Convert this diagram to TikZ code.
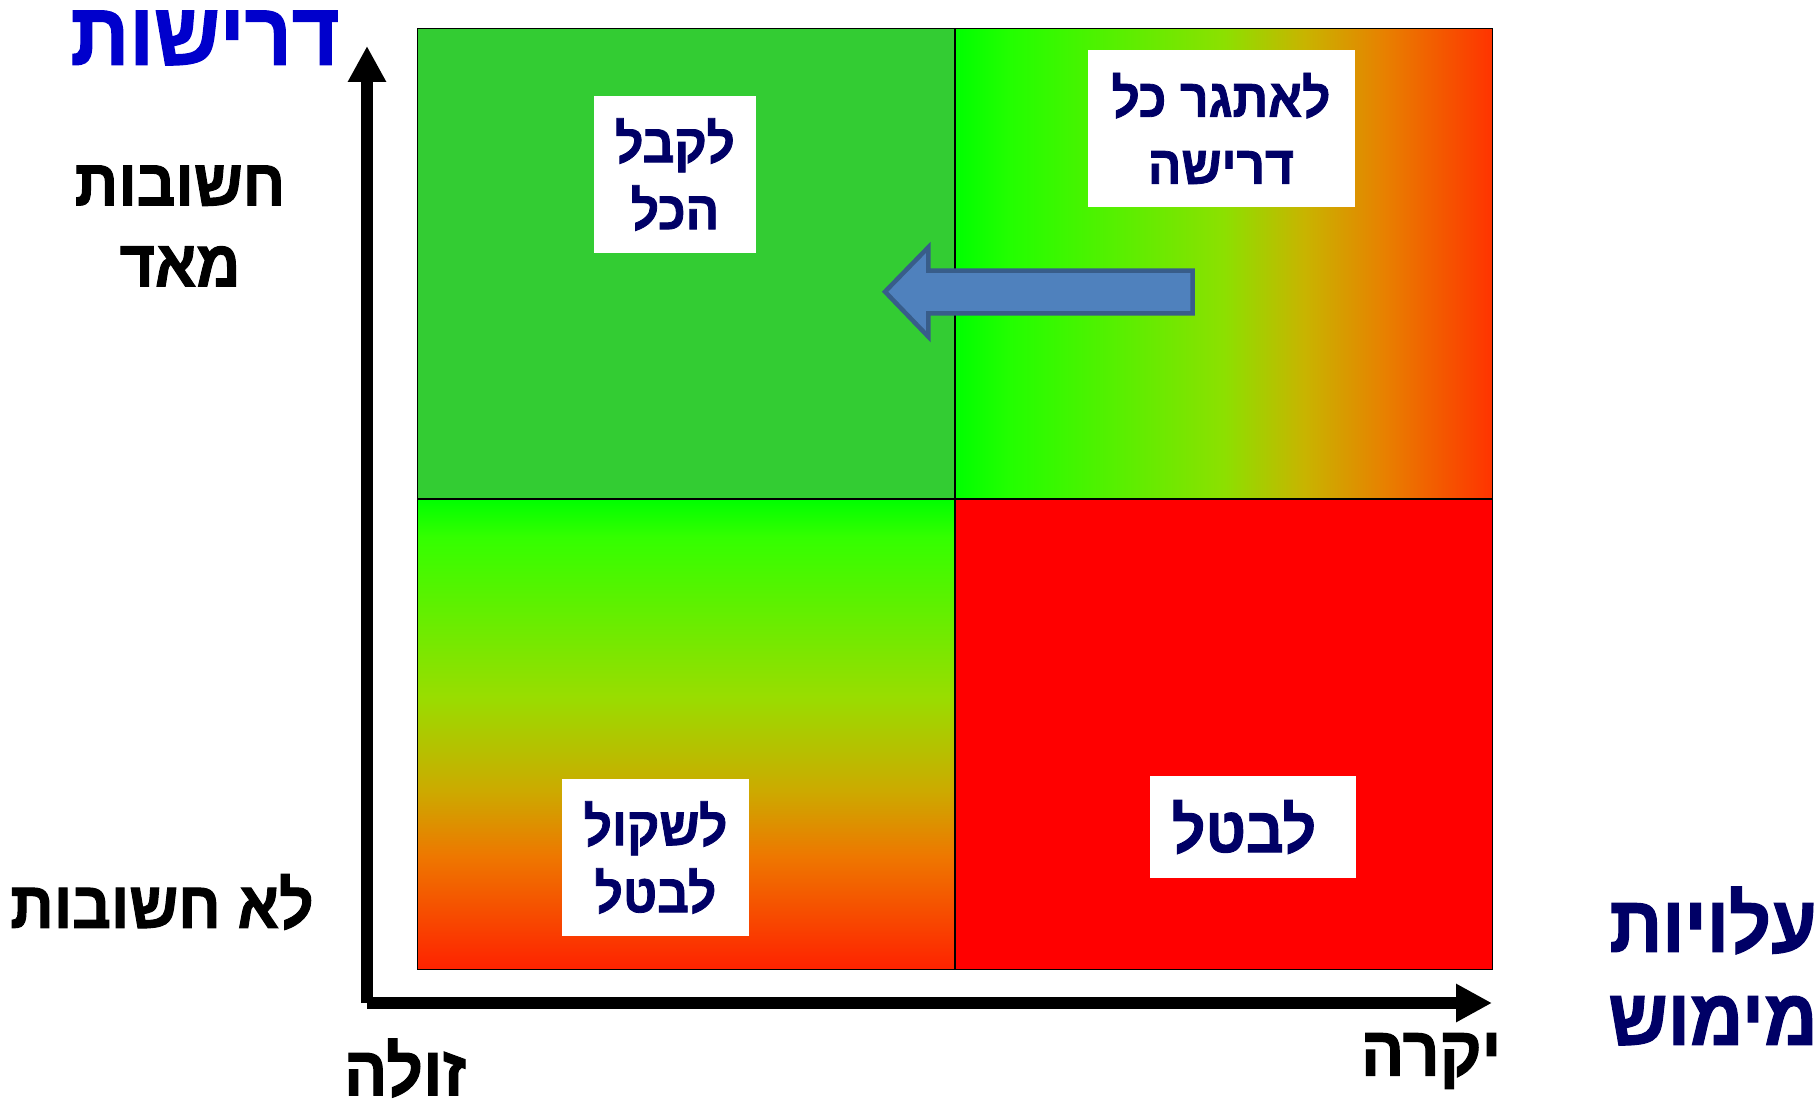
\documentclass[tikz,border=0pt]{standalone}
\usepackage{fontspec}
\usepackage{xcolor}
\usetikzlibrary{arrows.meta}
\newfontfamily\hebfont[Script=Hebrew, FakeStretch=0.92, BoldFont={Liberation Sans Bold}, BoldFeatures={FakeBold=1.5}]{Liberation Sans}
\TeXXeTstate=1

\definecolor{navytxt}{HTML}{000066}
\definecolor{titleblue}{HTML}{0000CC}
\definecolor{keepgreen}{HTML}{33CC33}
\definecolor{arrowfill}{HTML}{4F81BD}
\definecolor{arrowedge}{HTML}{385D8A}
\definecolor{gA}{HTML}{00FF00}
\definecolor{gB}{HTML}{22FF00}
\definecolor{gC}{HTML}{8CE000}
\definecolor{gD}{HTML}{C8B400}
\definecolor{gE}{HTML}{E88000}
\definecolor{gF}{HTML}{FF3300}
\definecolor{lA}{HTML}{FF2200}
\definecolor{lB}{HTML}{EE7700}
\definecolor{lC}{HTML}{CCAA00}
\definecolor{lD}{HTML}{99DD00}
\definecolor{lE}{HTML}{33FF00}
\definecolor{lF}{HTML}{00FF00}

\pgfdeclarehorizontalshading{costshade}{100bp}{color(0bp)=(gA); color(25bp)=(gA); color(30bp)=(gB); color(50bp)=(gC); color(57.5bp)=(gD); color(65bp)=(gE); color(75bp)=(gF); color(100bp)=(gF)}
\pgfdeclareverticalshading{lowshade}{100bp}{color(0bp)=(lA); color(25bp)=(lA); color(37bp)=(lB); color(44bp)=(lC); color(54bp)=(lD); color(71bp)=(lE); color(75bp)=(lF); color(100bp)=(lF)}

\tikzset{
  quad/.style={draw=black, line width=1.5pt, minimum width=537.5pt, minimum height=470.5pt, inner sep=0pt, outer sep=0pt, anchor=north west},
  verdict/.style={fill=white, text=navytxt, font=\hebfont\bfseries\fontsize{54}{67}\selectfont, align=center, inner sep=0pt},
  axislabel/.style={font=\hebfont\bfseries\fontsize{66}{81}\selectfont, align=center, inner sep=0pt},
  axis/.style={line width=12pt, -{Triangle[length=36pt,width=36pt]}}
}

\begin{document}
\begin{tikzpicture}[x=1pt,y=-1pt]
  \useasboundingbox (0,0) rectangle (1814,1099);

  % the four quadrants
  \node[quad, fill=keepgreen] (takeall) at (417.5,28.5) {};
  \node[quad, shading=costshade] (hard) at (955,28.5) {};
  \node[quad, shading=lowshade] (maybe) at (417.5,499) {};
  \node[quad, fill=red] (drop) at (955,499) {};

  \node[verdict, minimum width=162pt, minimum height=157pt] (kabel) at (675,174.5) {\beginR לקבל\endR\\\beginR הכל\endR};
  \node[verdict, minimum width=267pt, minimum height=157pt] (etgar) at (1221,128.5) {\beginR לאתגר כל\endR\\\beginR דרישה\endR};
  \node[verdict, minimum width=187pt, minimum height=157pt] (shkol) at (655.5,857.5) {\beginR לשקול\endR\\\beginR לבטל\endR};
  \node[verdict, minimum width=206pt, minimum height=102pt, font=\hebfont\bfseries\fontsize{64}{74}\selectfont] (levatel) at (1253,827) {\beginR לבטל\endR\hspace{18pt}};

  % shift arrow
  \draw[arrowedge, fill=arrowfill, line width=4.5pt] (1192.7,270.7) -- (928.3,270.7) -- (928.3,247.3) -- (885,291.7)
       -- (928.3,336.7) -- (928.3,313.3) -- (1192.7,313.3) -- cycle;

  % axes
  \coordinate (origin) at (367,1003);
  \coordinate (ytip) at (367,46);
  \coordinate (xtip) at (1492,1003);
  \draw[axis] (origin) -- (ytip);
  \draw[axis] (origin) -- (xtip);

  \node[axislabel, text=titleblue, font=\hebfont\bfseries\fontsize{89}{100}\selectfont] (req) at (205,38) {\beginR דרישות\endR};
  \node[axislabel] (high) at (180,226) {\beginR חשובות\endR\\\beginR מאד\endR};
  \node[axislabel] (low) at (162,902) {\beginR לא חשובות\endR};
  \node[axislabel, font=\hebfont\bfseries\fontsize{70}{80}\selectfont] (cheap) at (405,1068) {\beginR זולה\endR};
  \node[axislabel, font=\hebfont\bfseries\fontsize{70}{80}\selectfont] (dear) at (1431,1061) {\beginR יקרה\endR};
  \node[axislabel, text=navytxt, font=\hebfont\bfseries\fontsize{80}{93}\selectfont] (cost) at (1713,966) {\beginR עלויות\endR\\\beginR מימוש\endR};
\end{tikzpicture}
\end{document}
